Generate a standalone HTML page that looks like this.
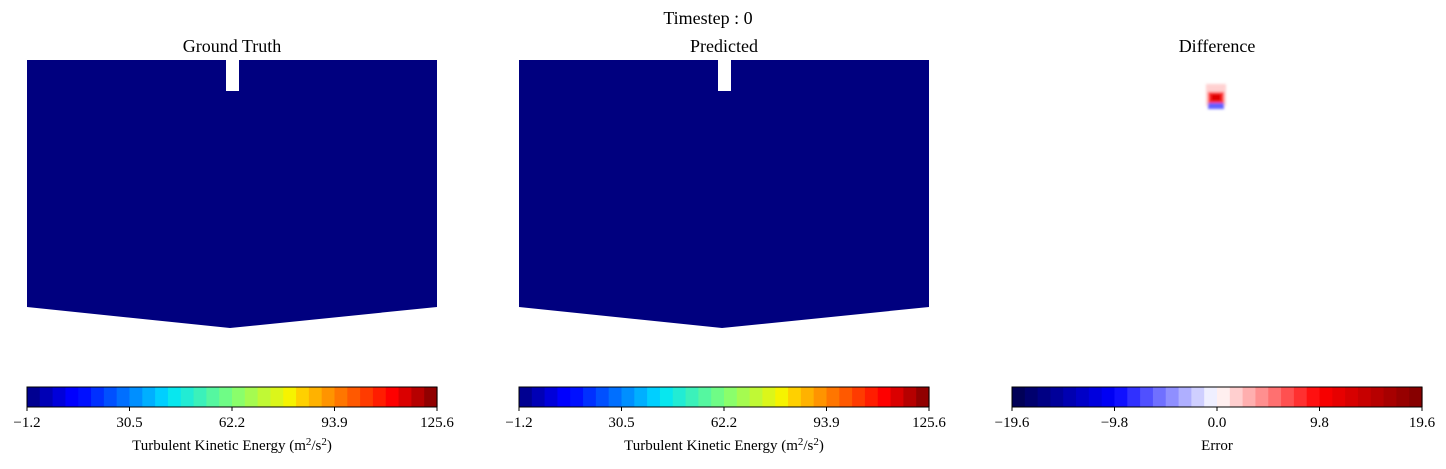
<!DOCTYPE html>
<html><head><meta charset="utf-8">
<style>
html,body{margin:0;padding:0;background:#fff;}
body{width:1446px;height:464px;overflow:hidden;font-family:"Liberation Serif","DejaVu Serif",serif;}
</style></head>
<body>
<svg id="fig" width="1446" height="464" xmlns="http://www.w3.org/2000/svg" font-family="Liberation Serif, DejaVu Serif, serif">
<defs>
 <filter id="blur" x="-50%" y="-50%" width="200%" height="200%"><feGaussianBlur stdDeviation="1.4"/></filter>
</defs>
<text x="708" y="24" font-size="18" text-anchor="middle">Timestep : 0</text>
<text x="232" y="52" font-size="18" text-anchor="middle">Ground Truth</text>
<text x="724" y="52" font-size="18" text-anchor="middle">Predicted</text>
<text x="1217" y="52" font-size="18" text-anchor="middle">Difference</text>

<g>
 <polygon points="27,60 226,60 226,91 239,91 239,60 437,60 437,307 230,328 27,307" fill="#00007f"/>
</g>
<g>
 <polygon points="519,60 718,60 718,91 731,91 731,60 929,60 929,307 722,328 519,307" fill="#00007f"/>
</g>
<g filter="url(#blur)">
 <rect x="1206" y="84" width="20" height="22" fill="#ffd0d0"/>
 <rect x="1208" y="92" width="16" height="11" fill="#ff3030"/>
 <rect x="1211" y="94" width="10" height="7" fill="#e00000"/>
 <rect x="1208" y="103" width="16" height="6" fill="#6060ff"/>
</g>
<g id="cbars"></g>
</svg>
<script>
const jetTicks = ["\u22121.2","30.5","62.2","93.9","125.6"];
const errTicks = ["\u221219.6","\u22129.8","0.0","9.8","19.6"];
const jetStops = [[0,[0,0,127]],[0.11,[0,0,255]],[0.125,[0,0,255]],[0.34,[0,219,255]],[0.35,[0,229,246]],[0.5,[124,255,121]],[0.64,[246,244,0]],[0.66,[255,219,0]],[0.89,[255,0,0]],[1,[127,0,0]]];
const seisStops = [[0,[0,0,76]],[0.25,[0,0,255]],[0.5,[255,255,255]],[0.75,[255,0,0]],[1,[127,0,0]]];
const NB = 32;
function cmap(stops,t){for(let i=1;i<stops.length;i++){if(t<=stops[i][0]){const a=stops[i-1],b=stops[i];const f=(t-a[0])/(b[0]-a[0]);return 'rgb('+a[1].map((v,k)=>Math.round(v+(b[1][k]-v)*f)).join(',')+')';}}return 'rgb('+stops[stops.length-1][1].join(',')+')';}
const NS='http://www.w3.org/2000/svg';
const root=document.getElementById('cbars');
function mk(tag,attrs,parent){const e=document.createElementNS(NS,tag);for(const k in attrs)e.setAttribute(k,attrs[k]);parent.appendChild(e);return e;}
function colorbar(x0,x1,stops,ticks,label,name){
 const g=mk('g',{},root);
 
 
 const y0=387,h=20,w=(x1-x0)/NB;
 for(let i=0;i<NB;i++){
  const r=mk('rect',{x:x0+i*w,y:y0,width:w+0.6,height:h,fill:cmap(stops,(i+0.5)/NB)},g);
  
  
 }
 mk('rect',{x:x0,y:y0,width:x1-x0,height:h,fill:'none',stroke:'#000','stroke-width':1},g);
 ticks.forEach((t,i)=>{
  const x=x0+(x1-x0)*i/(ticks.length-1);
  mk('line',{x1:x,x2:x,y1:y0+h,y2:y0+h+4,stroke:'#000'},g);
  const tx=mk('text',{x:x,y:y0+h+20,'font-size':15,'text-anchor':'middle'},g);
  tx.textContent=t;
  
  
 });
 const lb=mk('text',{x:(x0+x1)/2,y:y0+h+43,'font-size':15,'text-anchor':'middle'},g);
 lb.innerHTML=label;
 
 
}
colorbar(27,437,jetStops,jetTicks,'Turbulent Kinetic Energy (m<tspan font-size="11" dy="-5">2</tspan><tspan dy="5">/s</tspan><tspan font-size="11" dy="-5">2</tspan><tspan dy="5">)</tspan>','ground-truth-colorbar');
colorbar(519,929,jetStops,jetTicks,'Turbulent Kinetic Energy (m<tspan font-size="11" dy="-5">2</tspan><tspan dy="5">/s</tspan><tspan font-size="11" dy="-5">2</tspan><tspan dy="5">)</tspan>','predicted-colorbar');
colorbar(1012,1422,seisStops,errTicks,'Error','difference-colorbar');
</script>
</body></html>
